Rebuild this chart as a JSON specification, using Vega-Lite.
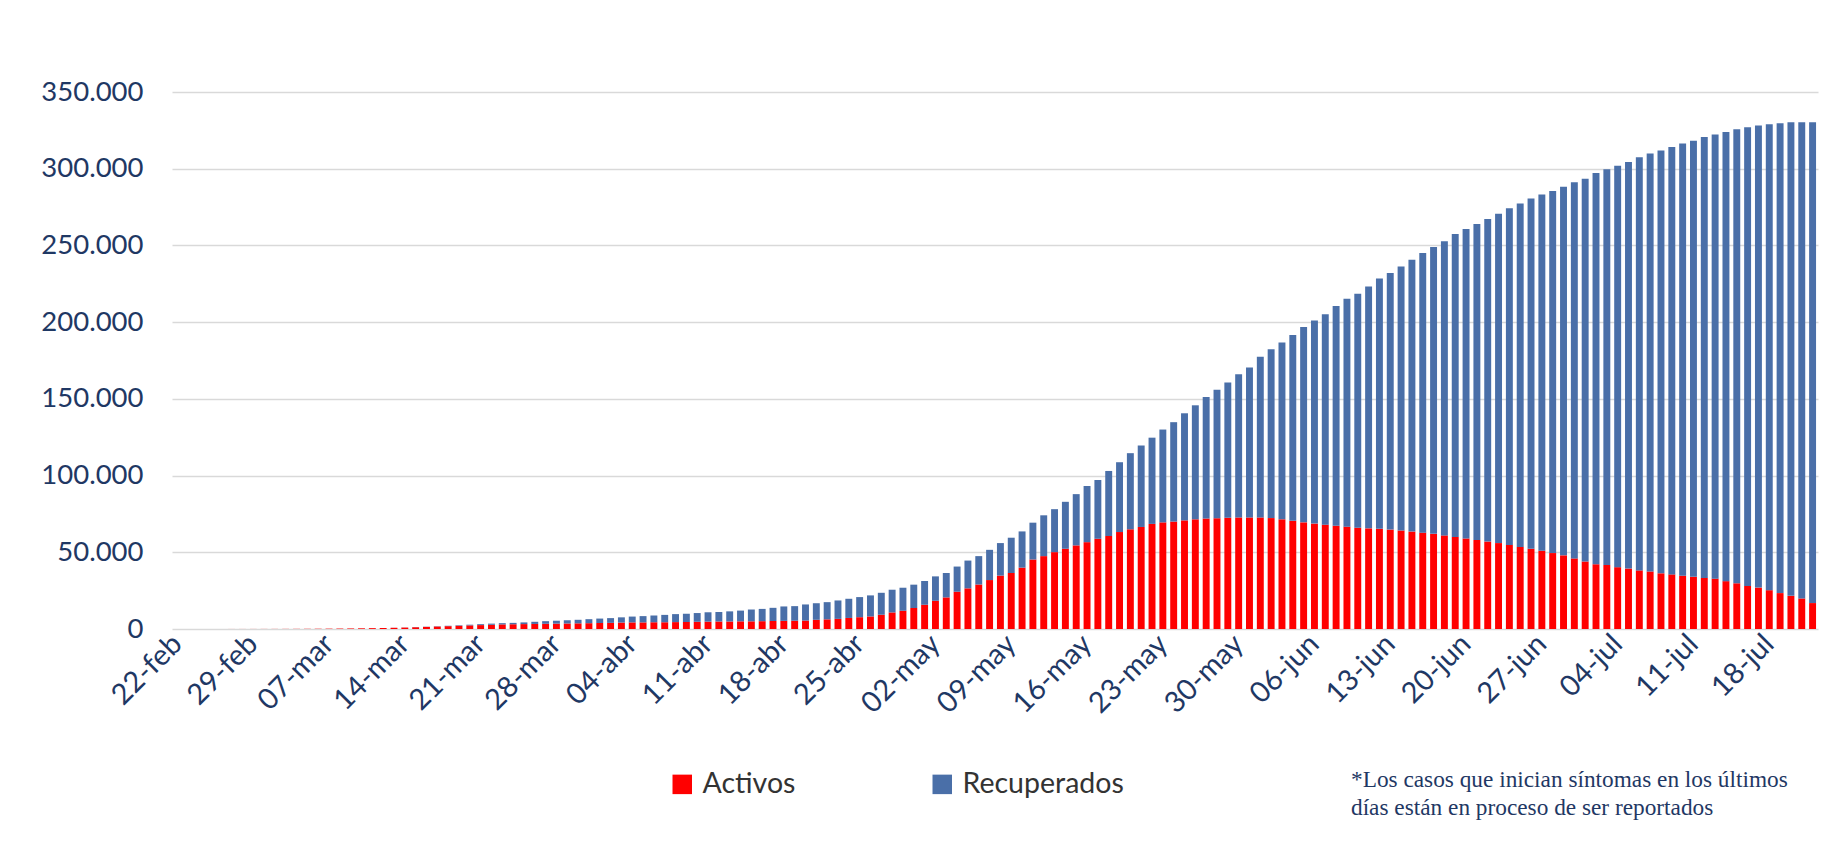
{
  "$schema": "https://vega.github.io/schema/vega-lite/v6.json",
  "width": 1646,
  "height": 537,
  "autosize": {"type": "none"},
  "padding": {"left": 172, "top": 92, "right": 29, "bottom": 220},
  "background": "white",
  "config": {
    "view": {"stroke": null},
    "font": "Lato",
    "locale": {"number": {"decimal": ",", "thousands": ".", "grouping": [3], "currency": ["$", ""]}}
  },
  "title": {
    "text": ["*Los casos que inician síntomas en los últimos", "días están en proceso de ser reportados"],
    "orient": "bottom",
    "anchor": "start",
    "frame": "group",
    "align": "left",
    "dx": 1179,
    "offset": -30,
    "font": "Liberation Serif",
    "fontSize": 23.3,
    "fontWeight": "normal",
    "lineHeight": 28,
    "color": "#1F3864"
  },
  "data": {"values": [
    {"fecha": "22-feb", "Activos": 10, "Recuperados": 0},
    {"fecha": "23-feb", "Activos": 10, "Recuperados": 0},
    {"fecha": "24-feb", "Activos": 15, "Recuperados": 0},
    {"fecha": "25-feb", "Activos": 15, "Recuperados": 0},
    {"fecha": "26-feb", "Activos": 20, "Recuperados": 0},
    {"fecha": "27-feb", "Activos": 25, "Recuperados": 0},
    {"fecha": "28-feb", "Activos": 30, "Recuperados": 0},
    {"fecha": "29-feb", "Activos": 40, "Recuperados": 0},
    {"fecha": "01-mar", "Activos": 50, "Recuperados": 0},
    {"fecha": "02-mar", "Activos": 60, "Recuperados": 0},
    {"fecha": "03-mar", "Activos": 80, "Recuperados": 0},
    {"fecha": "04-mar", "Activos": 100, "Recuperados": 0},
    {"fecha": "05-mar", "Activos": 130, "Recuperados": 0},
    {"fecha": "06-mar", "Activos": 170, "Recuperados": 0},
    {"fecha": "07-mar", "Activos": 220, "Recuperados": 0},
    {"fecha": "08-mar", "Activos": 280, "Recuperados": 0},
    {"fecha": "09-mar", "Activos": 350, "Recuperados": 0},
    {"fecha": "10-mar", "Activos": 440, "Recuperados": 0},
    {"fecha": "11-mar", "Activos": 550, "Recuperados": 0},
    {"fecha": "12-mar", "Activos": 660, "Recuperados": 20},
    {"fecha": "13-mar", "Activos": 790, "Recuperados": 40},
    {"fecha": "14-mar", "Activos": 940, "Recuperados": 60},
    {"fecha": "15-mar", "Activos": 1150, "Recuperados": 100},
    {"fecha": "16-mar", "Activos": 1380, "Recuperados": 120},
    {"fecha": "17-mar", "Activos": 1620, "Recuperados": 180},
    {"fecha": "18-mar", "Activos": 1850, "Recuperados": 250},
    {"fecha": "19-mar", "Activos": 2100, "Recuperados": 350},
    {"fecha": "20-mar", "Activos": 2350, "Recuperados": 450},
    {"fecha": "21-mar", "Activos": 2550, "Recuperados": 600},
    {"fecha": "22-mar", "Activos": 2750, "Recuperados": 750},
    {"fecha": "23-mar", "Activos": 3000, "Recuperados": 800},
    {"fecha": "24-mar", "Activos": 3100, "Recuperados": 900},
    {"fecha": "25-mar", "Activos": 3200, "Recuperados": 1100},
    {"fecha": "26-mar", "Activos": 3300, "Recuperados": 1400},
    {"fecha": "27-mar", "Activos": 3400, "Recuperados": 1700},
    {"fecha": "28-mar", "Activos": 3500, "Recuperados": 1900},
    {"fecha": "29-mar", "Activos": 3600, "Recuperados": 2100},
    {"fecha": "30-mar", "Activos": 3700, "Recuperados": 2300},
    {"fecha": "31-mar", "Activos": 3800, "Recuperados": 2600},
    {"fecha": "01-abr", "Activos": 3900, "Recuperados": 2900},
    {"fecha": "02-abr", "Activos": 4000, "Recuperados": 3100},
    {"fecha": "03-abr", "Activos": 4200, "Recuperados": 3400},
    {"fecha": "04-abr", "Activos": 4300, "Recuperados": 3800},
    {"fecha": "05-abr", "Activos": 4300, "Recuperados": 4100},
    {"fecha": "06-abr", "Activos": 4400, "Recuperados": 4400},
    {"fecha": "07-abr", "Activos": 4400, "Recuperados": 4800},
    {"fecha": "08-abr", "Activos": 4500, "Recuperados": 5200},
    {"fecha": "09-abr", "Activos": 4600, "Recuperados": 5400},
    {"fecha": "10-abr", "Activos": 4700, "Recuperados": 5700},
    {"fecha": "11-abr", "Activos": 4800, "Recuperados": 6100},
    {"fecha": "12-abr", "Activos": 4900, "Recuperados": 6200},
    {"fecha": "13-abr", "Activos": 4900, "Recuperados": 6600},
    {"fecha": "14-abr", "Activos": 5000, "Recuperados": 7000},
    {"fecha": "15-abr", "Activos": 5000, "Recuperados": 7700},
    {"fecha": "16-abr", "Activos": 5100, "Recuperados": 8000},
    {"fecha": "17-abr", "Activos": 5200, "Recuperados": 8600},
    {"fecha": "18-abr", "Activos": 5300, "Recuperados": 9400},
    {"fecha": "19-abr", "Activos": 5400, "Recuperados": 9500},
    {"fecha": "20-abr", "Activos": 5500, "Recuperados": 10500},
    {"fecha": "21-abr", "Activos": 6000, "Recuperados": 10800},
    {"fecha": "22-abr", "Activos": 6300, "Recuperados": 11200},
    {"fecha": "23-abr", "Activos": 6600, "Recuperados": 12000},
    {"fecha": "24-abr", "Activos": 7200, "Recuperados": 12500},
    {"fecha": "25-abr", "Activos": 7700, "Recuperados": 13100},
    {"fecha": "26-abr", "Activos": 8200, "Recuperados": 13700},
    {"fecha": "27-abr", "Activos": 9300, "Recuperados": 14300},
    {"fecha": "28-abr", "Activos": 10800, "Recuperados": 14800},
    {"fecha": "29-abr", "Activos": 11900, "Recuperados": 15000},
    {"fecha": "30-abr", "Activos": 13700, "Recuperados": 15200},
    {"fecha": "01-may", "Activos": 15800, "Recuperados": 15500},
    {"fecha": "02-may", "Activos": 18400, "Recuperados": 15900},
    {"fecha": "03-may", "Activos": 20600, "Recuperados": 15900},
    {"fecha": "04-may", "Activos": 24300, "Recuperados": 16400},
    {"fecha": "05-may", "Activos": 26500, "Recuperados": 18100},
    {"fecha": "06-may", "Activos": 29000, "Recuperados": 18500},
    {"fecha": "07-may", "Activos": 31900, "Recuperados": 19700},
    {"fecha": "08-may", "Activos": 34800, "Recuperados": 21200},
    {"fecha": "09-may", "Activos": 36500, "Recuperados": 23000},
    {"fecha": "10-may", "Activos": 40000, "Recuperados": 23600},
    {"fecha": "11-may", "Activos": 45300, "Recuperados": 24000},
    {"fecha": "12-may", "Activos": 47500, "Recuperados": 26600},
    {"fecha": "13-may", "Activos": 50100, "Recuperados": 28000},
    {"fecha": "14-may", "Activos": 52300, "Recuperados": 30600},
    {"fecha": "15-may", "Activos": 54500, "Recuperados": 33400},
    {"fecha": "16-may", "Activos": 56600, "Recuperados": 36600},
    {"fecha": "17-may", "Activos": 58800, "Recuperados": 38300},
    {"fecha": "18-may", "Activos": 60600, "Recuperados": 42400},
    {"fecha": "19-may", "Activos": 63200, "Recuperados": 45500},
    {"fecha": "20-may", "Activos": 65000, "Recuperados": 49600},
    {"fecha": "21-may", "Activos": 66500, "Recuperados": 53100},
    {"fecha": "22-may", "Activos": 68500, "Recuperados": 56200},
    {"fecha": "23-may", "Activos": 69500, "Recuperados": 60500},
    {"fecha": "24-may", "Activos": 70000, "Recuperados": 64800},
    {"fecha": "25-may", "Activos": 70800, "Recuperados": 69800},
    {"fecha": "26-may", "Activos": 71500, "Recuperados": 74300},
    {"fecha": "27-may", "Activos": 72000, "Recuperados": 79200},
    {"fecha": "28-may", "Activos": 72200, "Recuperados": 83700},
    {"fecha": "29-may", "Activos": 72500, "Recuperados": 88100},
    {"fecha": "30-may", "Activos": 72700, "Recuperados": 93300},
    {"fecha": "31-may", "Activos": 72700, "Recuperados": 97700},
    {"fecha": "01-jun", "Activos": 72700, "Recuperados": 104700},
    {"fecha": "02-jun", "Activos": 72300, "Recuperados": 110100},
    {"fecha": "03-jun", "Activos": 71500, "Recuperados": 115300},
    {"fecha": "04-jun", "Activos": 70500, "Recuperados": 121200},
    {"fecha": "05-jun", "Activos": 69500, "Recuperados": 127400},
    {"fecha": "06-jun", "Activos": 68700, "Recuperados": 132400},
    {"fecha": "07-jun", "Activos": 68000, "Recuperados": 137100},
    {"fecha": "08-jun", "Activos": 67300, "Recuperados": 143200},
    {"fecha": "09-jun", "Activos": 66700, "Recuperados": 148500},
    {"fecha": "10-jun", "Activos": 66000, "Recuperados": 152500},
    {"fecha": "11-jun", "Activos": 65600, "Recuperados": 157600},
    {"fecha": "12-jun", "Activos": 65300, "Recuperados": 163200},
    {"fecha": "13-jun", "Activos": 64800, "Recuperados": 167200},
    {"fecha": "14-jun", "Activos": 64200, "Recuperados": 172100},
    {"fecha": "15-jun", "Activos": 63500, "Recuperados": 177200},
    {"fecha": "16-jun", "Activos": 62800, "Recuperados": 182200},
    {"fecha": "17-jun", "Activos": 62000, "Recuperados": 187000},
    {"fecha": "18-jun", "Activos": 61000, "Recuperados": 191700},
    {"fecha": "19-jun", "Activos": 60000, "Recuperados": 197400},
    {"fecha": "20-jun", "Activos": 59000, "Recuperados": 201700},
    {"fecha": "21-jun", "Activos": 58000, "Recuperados": 206000},
    {"fecha": "22-jun", "Activos": 57000, "Recuperados": 210200},
    {"fecha": "23-jun", "Activos": 56000, "Recuperados": 214700},
    {"fecha": "24-jun", "Activos": 54800, "Recuperados": 219500},
    {"fecha": "25-jun", "Activos": 53500, "Recuperados": 223800},
    {"fecha": "26-jun", "Activos": 52300, "Recuperados": 228300},
    {"fecha": "27-jun", "Activos": 51000, "Recuperados": 232200},
    {"fecha": "28-jun", "Activos": 49500, "Recuperados": 236000},
    {"fecha": "29-jun", "Activos": 48000, "Recuperados": 240300},
    {"fecha": "30-jun", "Activos": 46000, "Recuperados": 245100},
    {"fecha": "01-jul", "Activos": 44000, "Recuperados": 249500},
    {"fecha": "02-jul", "Activos": 42200, "Recuperados": 255000},
    {"fecha": "03-jul", "Activos": 41700, "Recuperados": 257900},
    {"fecha": "04-jul", "Activos": 40300, "Recuperados": 261600},
    {"fecha": "05-jul", "Activos": 39400, "Recuperados": 264900},
    {"fecha": "06-jul", "Activos": 38200, "Recuperados": 269300},
    {"fecha": "07-jul", "Activos": 37500, "Recuperados": 272400},
    {"fecha": "08-jul", "Activos": 36300, "Recuperados": 275500},
    {"fecha": "09-jul", "Activos": 35600, "Recuperados": 278500},
    {"fecha": "10-jul", "Activos": 34700, "Recuperados": 281800},
    {"fecha": "11-jul", "Activos": 34000, "Recuperados": 284300},
    {"fecha": "12-jul", "Activos": 33300, "Recuperados": 287400},
    {"fecha": "13-jul", "Activos": 32800, "Recuperados": 289500},
    {"fecha": "14-jul", "Activos": 31200, "Recuperados": 292800},
    {"fecha": "15-jul", "Activos": 29800, "Recuperados": 296000},
    {"fecha": "16-jul", "Activos": 28100, "Recuperados": 298900},
    {"fecha": "17-jul", "Activos": 27000, "Recuperados": 301200},
    {"fecha": "18-jul", "Activos": 25300, "Recuperados": 303600},
    {"fecha": "19-jul", "Activos": 23400, "Recuperados": 306200},
    {"fecha": "20-jul", "Activos": 21600, "Recuperados": 308700},
    {"fecha": "21-jul", "Activos": 19900, "Recuperados": 310400},
    {"fecha": "22-jul", "Activos": 16900, "Recuperados": 313400}
  ]},
  "transform": [{"fold": ["Activos", "Recuperados"], "as": ["serie", "casos"]}],
  "mark": {"type": "bar"},
  "encoding": {
    "x": {
      "field": "fecha",
      "type": "ordinal",
      "sort": null,
      "title": null,
      "scale": {"paddingInner": 0.36, "paddingOuter": 0.18},
      "axis": {
        "values": ["22-feb", "29-feb", "07-mar", "14-mar", "21-mar", "28-mar", "04-abr", "11-abr", "18-abr", "25-abr", "02-may", "09-may", "16-may", "23-may", "30-may", "06-jun", "13-jun", "20-jun", "27-jun", "04-jul", "11-jul", "18-jul"],
        "labelAngle": -45,
        "labelAlign": "right",
        "labelBaseline": "middle",
        "labelPadding": 10,
        "labelFontSize": 29,
        "labelColor": "#1F3864",
        "domain": false,
        "ticks": false,
        "grid": false
      }
    },
    "y": {
      "field": "casos",
      "type": "quantitative",
      "stack": "zero",
      "title": null,
      "scale": {"domain": [0, 350000], "nice": false},
      "axis": {
        "values": [0, 50000, 100000, 150000, 200000, 250000, 300000, 350000],
        "format": ",.0f",
        "labelFontSize": 27.5,
        "labelColor": "#1F3864",
        "labelPadding": 29,
        "domain": false,
        "ticks": false,
        "gridColor": "#D9D9D9",
        "gridWidth": 1.5
      }
    },
    "color": {
      "field": "serie",
      "type": "nominal",
      "scale": {"domain": ["Activos", "Recuperados"], "range": ["#FF0000", "#4A6FA8"]},
      "legend": {
        "title": null,
        "orient": "none",
        "legendX": 496,
        "legendY": 678,
        "direction": "horizontal",
        "symbolType": "square",
        "symbolSize": 380,
        "symbolStrokeWidth": 0,
        "labelFontSize": 28.5,
        "labelLimit": 400,
        "labelColor": "#333333",
        "labelOffset": 6,
        "columnPadding": 132
      }
    },
    "order": {"field": "serie", "sort": "ascending"}
  }
}
